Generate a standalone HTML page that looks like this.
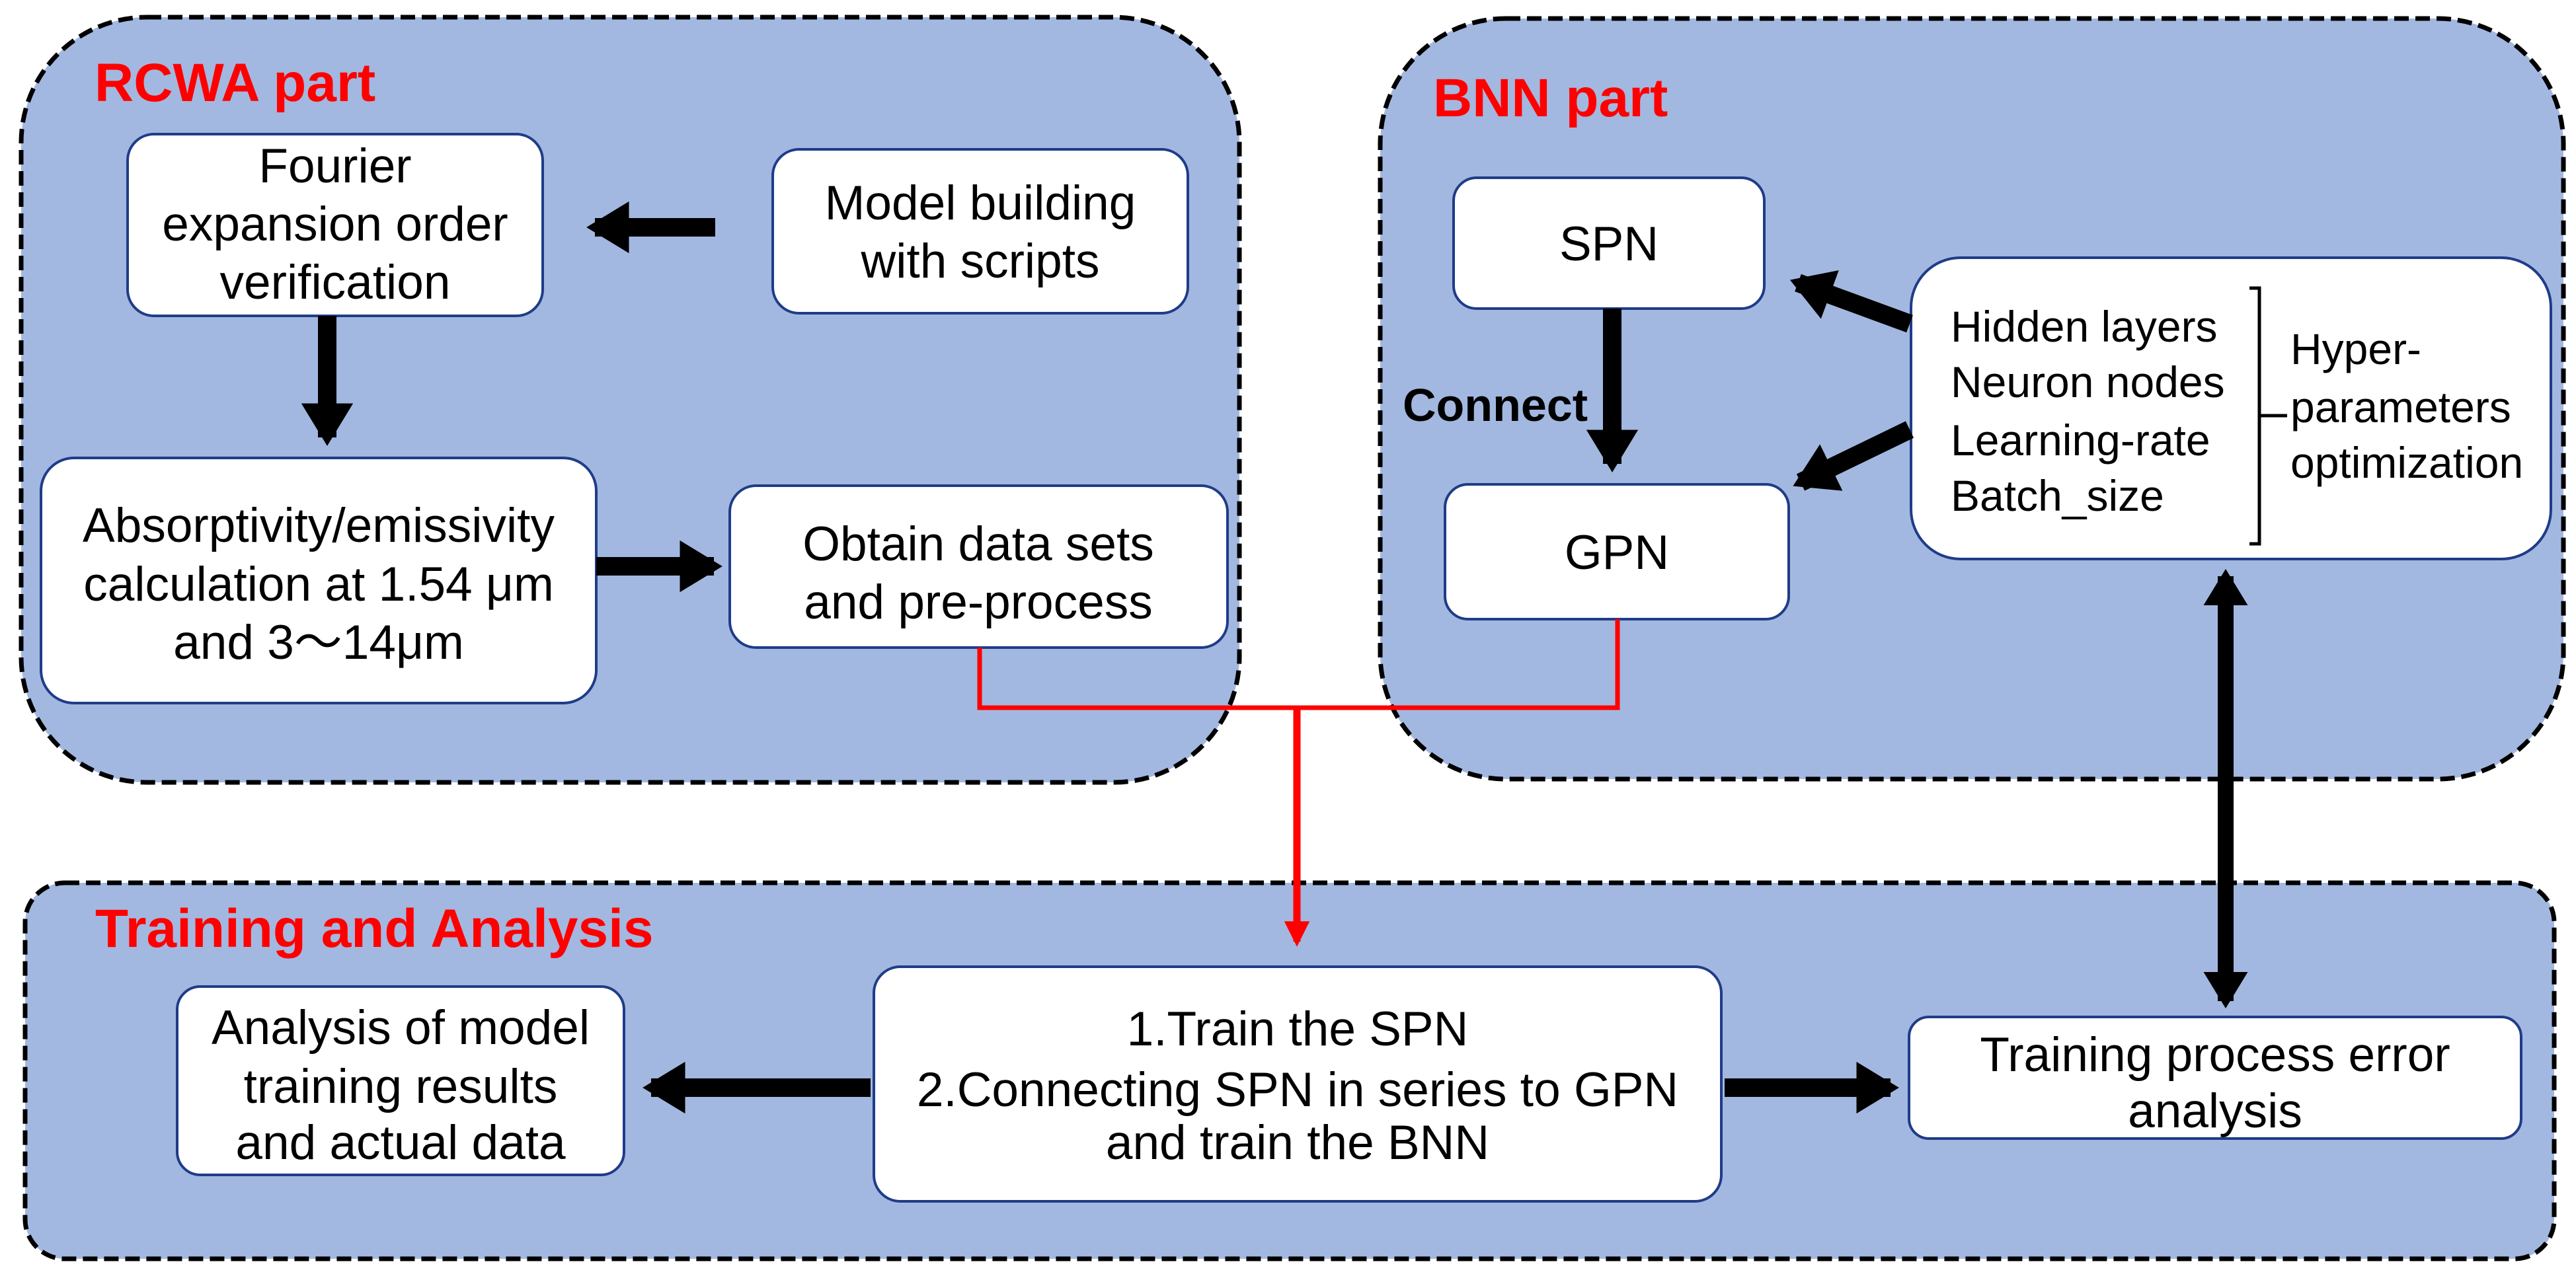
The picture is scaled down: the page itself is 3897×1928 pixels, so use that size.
<!DOCTYPE html>
<html><head><meta charset="utf-8"><style>
html,body{margin:0;padding:0;background:#fff}
svg{display:block}
text{font-family:"Liberation Sans",Arial,sans-serif}
</style></head><body>
<svg width="3897" height="1928" viewBox="0 0 3897 1928" xmlns="http://www.w3.org/2000/svg">
<defs>
<marker id="ah" viewBox="0 0 10 10" refX="8" refY="5" markerWidth="2.3" markerHeight="2.8" orient="auto-start-reverse" markerUnits="strokeWidth" preserveAspectRatio="none"><path d="M0,0 L10,5 L0,10 z" fill="#000"/></marker>
<marker id="ahr" viewBox="0 0 10 10" refX="8" refY="5" markerWidth="3.5" markerHeight="3.5" orient="auto" markerUnits="strokeWidth"><path d="M0,0 L10,5 L0,10 z" fill="#f00"/></marker>
</defs>
<g fill="#a3b8e0" stroke="#000" stroke-width="7" stroke-dasharray="22,10">
<rect x="32" y="26" width="1843" height="1158" rx="190"/>
<rect x="2088" y="28" width="1790" height="1151" rx="190"/>
<rect x="38" y="1336" width="3826" height="569" rx="60"/>
</g>
<g font-size="82" font-weight="bold" fill="#f00">
<text x="143" y="153">RCWA part</text>
<text x="2168" y="176">BNN part</text>
<text x="144" y="1433">Training and Analysis</text>
</g>
<g fill="#fff" stroke="#1f3c88" stroke-width="4">
<rect x="193" y="203" width="628" height="275" rx="40"/>
<rect x="1169" y="226" width="628" height="248" rx="40"/>
<rect x="62" y="693" width="840" height="371" rx="50"/>
<rect x="1104" y="735" width="753" height="245" rx="40"/>
<rect x="2199" y="269" width="470" height="198" rx="35"/>
<rect x="2186" y="733" width="520" height="204" rx="35"/>
<rect x="2891" y="390" width="968" height="456" rx="75"/>
<rect x="268" y="1493" width="676" height="285" rx="35"/>
<rect x="1322" y="1463" width="1282" height="355" rx="40"/>
<rect x="2888" y="1539" width="926" height="184" rx="30"/>
</g>
<g fill="none" stroke="#f00" stroke-width="7">
<polyline points="1482,980 1482,1071 2447,1071 2447,937"/>
<line x1="1962" y1="1071" x2="1962" y2="1425" stroke-width="11" marker-end="url(#ahr)"/>
</g>
<g stroke="#000" stroke-width="28" fill="none">
<line x1="1082" y1="344" x2="900" y2="344" marker-end="url(#ah)"/>
<line x1="495" y1="478" x2="495" y2="662" marker-end="url(#ah)"/>
<line x1="902" y1="857" x2="1080" y2="857" marker-end="url(#ah)"/>
<line x1="2439" y1="467" x2="2439" y2="702" marker-end="url(#ah)"/>
<line x1="2889" y1="490" x2="2720" y2="428" marker-end="url(#ah)"/>
<line x1="2889" y1="650" x2="2724" y2="730" marker-end="url(#ah)"/>
<line x1="3367" y1="872" x2="3367" y2="1515" stroke-width="24" marker-start="url(#ah)" marker-end="url(#ah)"/>
<line x1="1317" y1="1646" x2="985" y2="1646" marker-end="url(#ah)"/>
<line x1="2609" y1="1646" x2="2860" y2="1646" marker-end="url(#ah)"/>
</g>
<g font-size="73" fill="#000" text-anchor="middle">
<text x="507" y="276">Fourier</text>
<text x="507" y="364">expansion order</text>
<text x="507" y="452">verification</text>
<text x="1483" y="332">Model building</text>
<text x="1483" y="420">with scripts</text>
<text x="482" y="820">Absorptivity/emissivity</text>
<text x="482" y="909">calculation at 1.54 μm</text>
<text x="482" y="997">and 3～14μm</text>
<text x="1480" y="848">Obtain data sets</text>
<text x="1480" y="936">and pre-process</text>
<text x="2434" y="394">SPN</text>
<text x="2446" y="861">GPN</text>
<text x="606" y="1580">Analysis of model</text>
<text x="606" y="1669">training results</text>
<text x="606" y="1754">and actual data</text>
<text x="1963" y="1582">1.Train the SPN</text>
<text x="1963" y="1674">2.Connecting SPN in series to GPN</text>
<text x="1963" y="1754">and train the BNN</text>
<text x="3351" y="1621">Training process error</text>
<text x="3351" y="1706">analysis</text>
</g>
<text x="2122" y="637" font-size="70" font-weight="bold">Connect</text>
<g font-size="66" fill="#000">
<text x="2951" y="517">Hidden layers</text>
<text x="2951" y="601">Neuron nodes</text>
<text x="2951" y="689">Learning-rate</text>
<text x="2951" y="773">Batch_size</text>
<text x="3465" y="551">Hyper-</text>
<text x="3465" y="639">parameters</text>
<text x="3465" y="723">optimization</text>
</g>
<polyline points="3403,436 3418,436 3418,823 3403,823" fill="none" stroke="#000" stroke-width="5"/>
<line x1="3418" y1="629" x2="3460" y2="629" stroke="#000" stroke-width="5"/>
</svg>
</body></html>
